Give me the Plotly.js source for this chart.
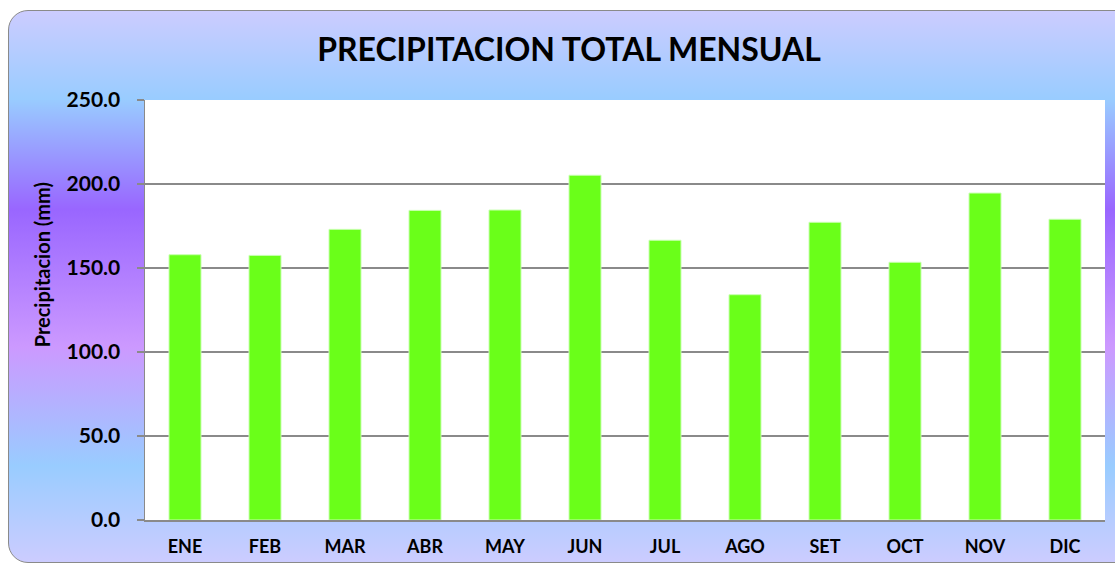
<!DOCTYPE html>
<html>
<head>
<meta charset="utf-8">
<script src="https://cdn.plot.ly/plotly-3.0.1.min.js"></script>
<style>
  html, body { margin:0; padding:0; width:1115px; height:566px; overflow:hidden; background:#ffffff; }
  #frame { position:absolute; left:8px; top:10px; width:1130px; height:553px; box-sizing:border-box;
    border:1.5px solid #8a8a8a; border-radius:20px;
    background: linear-gradient(to bottom, #CCCCFF 0%, #99CCFF 16%, #9966FF 36%, #CC99FF 61%, #99CCFF 82.5%, #CCCCFF 100%); }
  #chart { position:absolute; left:0; top:0; width:1115px; height:566px; }
</style>
</head>
<body>
<div id="frame"></div>
<div id="chart"></div>
<script>
const months = ["ENE","FEB","MAR","ABR","MAY","JUN","JUL","AGO","SET","OCT","NOV","DIC"];
const precipitation = [157.9, 157.5, 173.0, 184.3, 184.5, 205.2, 166.5, 134.1, 177.2, 153.4, 194.6, 179.0];
const yTickValues = [0, 50, 100, 150, 200, 250];
const yTickLabels = ["0.0", "50.0", "100.0", "150.0", "200.0", "250.0"];

const trace = {
  type: "bar",
  x: months,
  y: precipitation,
  marker: { color: "#6AFF19", line: { color: "#C8FFB0", width: 1 } },
  hoverinfo: "x+y"
};

const layout = {
  width: 1115, height: 566,
  margin: { l: 145, r: 10, t: 100, b: 46 },
  paper_bgcolor: "rgba(0,0,0,0)",
  plot_bgcolor: "#ffffff",
  bargap: 0.6,
  showlegend: false,
  font: { family: "Lato, 'Open Sans', sans-serif", color: "#000000" },
  title: {
    text: "<b>PRECIPITACION TOTAL MENSUAL</b>",
    font: { family: "Lato, sans-serif", size: 32, color: "#000000" },
    x: 0.5103, xref: "container", xanchor: "center",
    y: 51, yref: "container", yanchor: "middle"
  },
  xaxis: {
    type: "category",
    showline: true, linecolor: "#8a8a8a", linewidth: 1.5,
    ticks: "", showgrid: false,
    tickfont: { family: "Lato, sans-serif", size: 18, color: "#000000", weight: "bold" },
    ticklabelstandoff: 10
  },
  yaxis: {
    range: [0, 250],
    tickvals: yTickValues, ticktext: yTickLabels,
    showline: true, linecolor: "#8a8a8a", linewidth: 1.5,
    ticks: "outside", ticklen: 7, tickcolor: "#8a8a8a", tickwidth: 1.5,
    showgrid: true, gridcolor: "#8a8a8a", gridwidth: 1.2,
    zeroline: false,
    tickfont: { family: "Lato, sans-serif", size: 21, color: "#000000", weight: "bold" },
    ticklabelstandoff: 12
  },
  annotations: [{
    text: "<b>Precipitacion (mm)</b>",
    xref: "paper", yref: "paper",
    x: -0.107, y: 0.607,
    xanchor: "center", yanchor: "middle",
    textangle: -90, showarrow: false,
    font: { family: "Lato, sans-serif", size: 20, color: "#000000" }
  }]
};

Plotly.newPlot("chart", [trace], layout, { displayModeBar: false, staticPlot: true });
</script>
</body>
</html>
